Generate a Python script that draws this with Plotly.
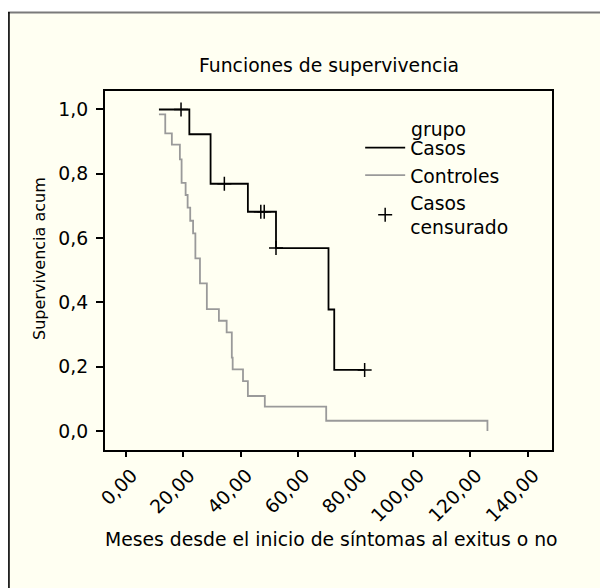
import plotly.graph_objects as go

# ---- data ----
casos_t = [11.5, 22.1, 29.5, 42.5, 52.3, 70.6, 72.6, 83.2]
casos_s = [1.0, 0.923, 0.769, 0.682, 0.569, 0.378, 0.190, 0.190]

cens_t = [19.2, 34.3, 47.0, 48.2, 52.3, 83.2]
cens_s = [1.0, 0.769, 0.682, 0.682, 0.569, 0.190]

ctrl_t = [11.5, 13.7, 16.0, 18.8, 19.4, 20.8, 21.5, 22.4, 23.4, 24.2, 25.8,
          28.2, 32.4, 35.1, 36.9, 37.2, 40.8, 42.5, 48.4, 69.8, 126.0]
ctrl_s = [0.985, 0.926, 0.891, 0.845, 0.772, 0.734, 0.695, 0.654, 0.615, 0.537,
          0.459, 0.379, 0.343, 0.307, 0.228, 0.192, 0.155, 0.109, 0.076, 0.032, 0.0]

x_ticks = [0, 20, 40, 60, 80, 100, 120, 140]
x_labels = ["0,00", "20,00", "40,00", "60,00", "80,00", "100,00", "120,00", "140,00"]
y_ticks = [0.0, 0.2, 0.4, 0.6, 0.8, 1.0]
y_labels = ["0,0", "0,2", "0,4", "0,6", "0,8", "1,0"]

FONT = "DejaVu Sans"
FS = 18.8
CREAM = "#FFFFF2"

# page has an 8px body margin: figure is placed at (8, 8)
OFF = 8
FW, FH = 600, 580
# plot area in page pixels: x 105..551.7, y 91..450
L = 105 - OFF
R = FW - (551.7 - OFF)
T = 91 - OFF
B = FH - (450 - OFF)
W, H = FW - L - R, FH - T - B


def px(x):  # page x -> paper
    return (x - OFF - L) / W


def py(y):  # page y -> paper
    return (FH - B - (y - OFF)) / H


fig = go.Figure()
fig.add_trace(go.Scatter(x=casos_t, y=casos_s, mode="lines", line_shape="hv",
                         line=dict(color="black", width=1.8), name="Casos"))
fig.add_trace(go.Scatter(x=ctrl_t, y=ctrl_s, mode="lines", line_shape="hv",
                         line=dict(color="#9a9a9a", width=1.8), name="Controles"))
fig.add_trace(go.Scatter(x=cens_t, y=cens_s, mode="markers",
                         marker=dict(symbol="cross-thin", size=10, color="black",
                                     line=dict(color="black", width=1.5)),
                         name="Casos<br>censurado"))

shapes = [
    dict(type="rect", xref="paper", yref="paper", x0=px(8), x1=px(640), y0=py(640), y1=py(12),
         fillcolor=CREAM, line=dict(width=0), layer="below"),
    dict(type="line", xref="paper", yref="paper", x0=px(8), x1=px(640), y0=py(12.5), y1=py(12.5),
         line=dict(color="#7a7a7a", width=2)),
    dict(type="line", xref="paper", yref="paper", x0=px(9), x1=px(9), y0=py(12), y1=py(640),
         line=dict(color="black", width=1.6)),
]

annotations = [
    dict(text="Funciones de supervivencia", xref="paper", yref="paper", x=0.5, y=py(66),
         xanchor="center", yanchor="middle", showarrow=False,
         font=dict(family=FONT, size=FS, color="black")),
    dict(text="Meses desde el inicio de síntomas al exitus o no", xref="paper", yref="paper",
         x=px(331.2), y=py(539), xanchor="center", yanchor="middle", showarrow=False,
         font=dict(family=FONT, size=FS, color="black")),
    dict(text="Supervivencia acum", xref="paper", yref="paper", x=px(39), y=py(258),
         xanchor="center", yanchor="middle", textangle=-90, showarrow=False,
         font=dict(family=FONT, size=16, color="black")),
    dict(text="grupo", xref="paper", yref="paper", x=px(409), y=py(129.5),
         xanchor="left", yanchor="middle", showarrow=False,
         font=dict(family=FONT, size=FS, color="black")),
]

axis_common = dict(showline=True, linecolor="black", linewidth=2, mirror=True,
                   ticks="outside", tickwidth=1.5, tickcolor="black",
                   showgrid=False, zeroline=False,
                   tickfont=dict(family=FONT, size=FS, color="black"))

fig.update_layout(
    width=FW, height=FH,
    margin=dict(l=L, r=R, t=T, b=B, pad=0, autoexpand=False),
    paper_bgcolor="white", plot_bgcolor=CREAM,
    font=dict(family=FONT, size=FS, color="black"),
    xaxis=dict(range=[-7.3, 148.5], tickvals=x_ticks, ticktext=x_labels, tickangle=-45,
               ticklen=5, ticklabelshift=6, ticklabelstandoff=0, **axis_common),
    yaxis=dict(range=[-0.059, 1.0575], tickvals=y_ticks, ticktext=y_labels,
               ticklen=7, ticklabelstandoff=4, **axis_common),
    showlegend=True,
    legend=dict(x=px(360), y=py(129), xanchor="left", yanchor="top",
                bgcolor="rgba(0,0,0,0)", borderwidth=0, itemwidth=40,
                font=dict(family=FONT, size=FS, color="black"), tracegroupgap=0),
    shapes=shapes, annotations=annotations,
)

fig.write_html("out.html")
